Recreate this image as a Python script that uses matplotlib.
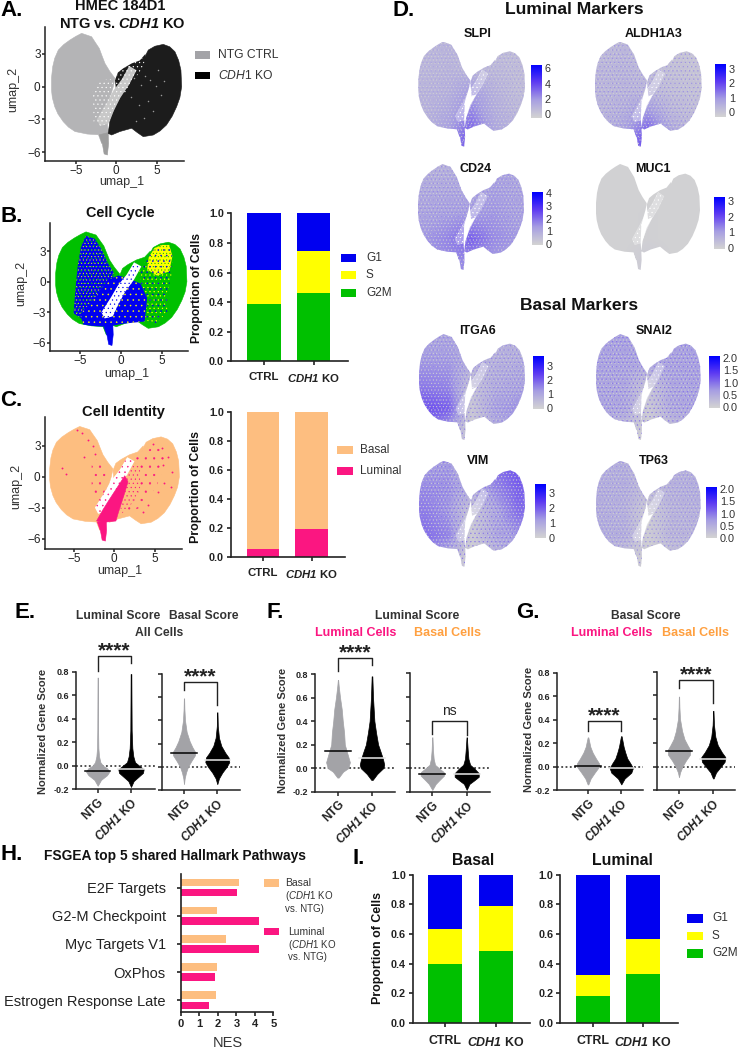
import numpy as np
import matplotlib
matplotlib.use('Agg')
from matplotlib import pyplot as plt
from matplotlib.colors import LinearSegmentedColormap
from matplotlib.patches import Polygon, Rectangle, PathPatch
from matplotlib.path import Path

plt.rcParams['font.family'] = ['Liberation Sans', 'DejaVu Sans']
plt.rcParams['mathtext.fontset'] = 'custom'
plt.rcParams['mathtext.rm'] = 'Liberation Sans'
plt.rcParams['mathtext.it'] = 'Liberation Sans:italic'
plt.rcParams['mathtext.bf'] = 'Liberation Sans:bold'
plt.rcParams['mathtext.bfit'] = 'Liberation Sans:italic:bold'
plt.rcParams['hatch.linewidth'] = 0.35

W, H = 738, 1049
INK = '#222222'
GREY = '#b4b4b6'
NTG_GREY = '#a3a3a7'
BLUE = '#0000f0'
YELLOW = '#ffff00'
GREEN = '#00c000'
PEACH = '#fdbe80'
PINK = '#fb1681'
ORANGE_TXT = '#ffa040'
CDH1 = r'$\mathit{CDH1}$ KO'
CDH1B = r'$\mathbfit{CDH1}$ KO'

# umap outlines (umap_1, umap_2)
LEFT = [(-4.28, 4.88), (-3.05, 4.57), (-2.55, 4.0), (-2.1, 3.5), (-1.75, 2.8), (-1.4, 2.13), (-0.8, 1.4), (-0.16, 0.76),
        (-0.37, 0), (-1, -1.5), (-1.1, -3.35), (-1, -4.3), (-1.8, -5.2), (-2.2, -4.4), (-3.6, -4.33), (-5.1, -4.1),
        (-5.9, -3.7), (-6.55, -3.2), (-7.2, -2.5), (-7.6, -1.83), (-7.9, -1.0), (-8, -0.3), (-8, 0.8), (-7.85, 1.83),
        (-7.6, 2.6), (-7.16, 3.35), (-6.5, 3.85), (-5.72, 4.27), (-5.0, 4.6)]
RIGHT = [(5.8, 3.87), (6.6, 3.65), (7.24, 3.2), (7.7, 2.4), (7.98, 1.52), (8.07, 0), (7.85, -1.0), (7.45, -1.83),
         (6.9, -2.7), (6.2, -3.5), (5.4, -4.05), (4.57, -4.42), (3.33, -4.57), (2.6, -4.2), (1.9, -3.8), (0.45, -4.1),
         (-0.58, -4.42), (-1, -4.27), (-0.8, -3.2), (-0.16, -1.83), (1.07, -0.3), (2.3, 1.2), (3.33, 2.44), (3.95, 3.35),
         (4.77, 3.7)]
WING = [(-0.16, 0.6), (0.2, 1.3), (0.86, 1.68), (1.9, 2.13), (2.9, 2.4), (3.6, 3.0), (3.4, 1.8), (2.1, 0.6), (1.07, -0.6), (0.04, -0.9)]
TAIL = [(-1, -4.2), (-0.95, -5.2), (-1.1, -6.25), (-1.5, -6.15), (-1.7, -5.3), (-2.1, -4.4)]
GAP = [(-2.4, -3.0), (-1.2, -1.5), (-0.4, -0.4), (0.7, 0.7), (1.6, 1.9), (2.5, 1.5), (1.6, 0.2), (0.5, -1.0), (-0.3, -2.2),
       (-1.0, -3.4), (-2.0, -3.6)]
# panel A speckled zone beside the crease
A_SPECK = [(-2.9, -0.4), (-1.9, 0.6), (-0.3, 0.7), (-0.9, -1.4), (-1.1, -3.5), (-2.8, -3.4)]
# panel B mixes
B_LEFT_MIX = [(-4.3, 4.5), (-3.2, 4.2), (-2.4, 3.2), (-1.6, 1.8), (-0.9, 0.9), (-1.3, -1.5), (-2.5, -3.2), (-4.5, -3.8),
              (-5.8, -3.1), (-5.6, -1), (-5.3, 1.5), (-4.9, 3.4)]
B_RIGHT_MIX = [(4.1, 3.3), (5.0, 3.6), (5.9, 3.6), (6.3, 2.5), (6.2, 0.6), (5.6, -1.2), (5.7, -2.9), (4.4, -4.1), (3.0, -3.8),
               (2.6, -1.2), (2.2, 1.0)]
B_RIGHT_TOP = [(4.1, 3.3), (5.0, 3.6), (5.9, 3.6), (6.3, 2.5), (5.9, 1.0), (4.4, 0.6), (3.2, 1.2), (3.4, 2.4)]
B_BLUE = [(-4.6, -4.2), (-5, -3.2), (-3.2, -1.6), (-1.6, 0.2), (-0.3, 0.6), (1.0, 0.3), (2.4, -0.2), (3.2, -1.6), (2.9, -3.9),
          (0.45, -4.1), (-1, -4.3), (-2.2, -4.4), (-3.6, -4.33)]
# panel C pink zones
C_PINK_MIST = [(2.3, 1.6), (3.5, 2.5), (5.5, 2.9), (6.4, 1.5), (5.2, -1.0), (3.2, -3.0), (1.4, -3.6), (0.9, -1.5)]
C_PINK_NEAR = [(1.8, 1.4), (3.2, 1.2), (3.2, -1.2), (2.0, -2.8), (0.9, -3.6), (0.4, -1.5)]
C_LEFT_MIST = [(-2.8, 1.2), (-2.0, 1.8), (-1.0, 0.4), (-1.2, -1.5), (-2.0, -2.6), (-2.8, -1.5)]
C_PINK_BAND = [(-2.2, -4.3), (-1.4, -3.2), (-0.6, -2.2), (0.4, -1.0), (1.3, 0.1), (1.7, -0.5), (1.2, -1.8), (0.5, -3.5), (0.2, -4.3), (-1, -4.4)]
# sparse cells picked by eye
A_KO_SPECKS_X = [2.2, 3.1, 3.6, 4.2, 4.9, 5.5, 3.9, 2.8, 4.5, 5.9, 1.8, 3.4, 5.1, 2.4]
A_KO_SPECKS_Y = [0.8, 0.2, 1.0, 0.6, 0.1, -0.8, -1.3, -1.7, -2.2, 0.5, -0.9, -2.9, 1.5, -3.1]
C_PINK_X = [-4.0, -3.3, -2.6, -6.5, -6.0, -3.8, -2.4, -4.6, 4.8, 5.9, 6.6, 7.1, 6.2, 5.4, 4.2, 7.0, 6.0, 3.6]
C_PINK_Y = [4.2, 3.6, 3.0, 0.8, 0.3, 1.9, 2.2, 4.5, 3.2, 2.8, 1.9, 0.5, -0.6, -1.5, -2.7, -1.0, 1.1, -3.4]

UMAP_X = [-5, 0, 5]
UMAP_Y = [-6, -3, 0, 3]

# stacked bars
BAR_CATS = ['CTRL', CDH1B]
B_G2M = [0.385, 0.46]
B_S = [0.232, 0.285]
B_G1 = [0.383, 0.255]
C_LUM = [0.055, 0.195]
C_BAS = [0.95, 0.805]
I_BAS_G2M = [0.395, 0.487]
I_BAS_S = [0.238, 0.30]
I_BAS_G1 = [0.367, 0.213]
I_LUM_G2M = [0.18, 0.33]
I_LUM_S = [0.147, 0.238]
I_LUM_G1 = [0.673, 0.432]

# feature plots: mean level (0-1 of colour scale) read by eye, rows top to bottom, cols left to right
GENES = ['SLPI', 'ALDH1A3', 'CD24', 'MUC1', 'ITGA6', 'SNAI2', 'VIM', 'TP63']
LV_SLPI = [[.18, .2, .15, .15, .15], [.18, .2, .18, .17, .15], [.2, .22, .35, .22, .15], [.2, .28, .45, .25, .18], [.2, .35, .6, .3, .2]]
LV_ALDH1A3 = [[.15, .18, .12, .1, .1], [.18, .2, .15, .12, .1], [.18, .2, .2, .14, .12], [.2, .25, .4, .2, .15], [.2, .35, .65, .3, .2]]
LV_CD24 = [[.22, .22, .25, .3, .28], [.26, .28, .28, .33, .3], [.3, .33, .35, .36, .32], [.35, .42, .55, .4, .35], [.35, .4, .4, .35, .3]]
LV_MUC1 = [[.01, .01, .01, .01, .01], [.01, .01, .01, .01, .01], [.01, .01, .02, .01, .01], [.01, .01, .02, .01, .01], [.01, .02, .06, .02, .01]]
LV_ITGA6 = [[.3, .3, .2, .22, .2], [.35, .35, .25, .22, .25], [.45, .42, .12, .25, .3], [.6, .55, .08, .32, .38], [.5, .3, .03, .2, .3]]
LV_SNAI2 = [[.3, .32, .2, .3, .32], [.3, .3, .3, .3, .32], [.28, .28, .1, .28, .3], [.3, .28, .06, .26, .3], [.2, .1, .02, .1, .2]]
LV_VIM = [[.32, .35, .08, .5, .6], [.4, .38, .25, .4, .55], [.45, .36, .08, .28, .5], [.5, .42, .05, .28, .35], [.4, .2, .02, .15, .3]]
LV_TP63 = [[.22, .24, .1, .22, .22], [.24, .24, .15, .22, .24], [.24, .22, .05, .2, .22], [.25, .24, .04, .2, .2], [.2, .1, .02, .1, .15]]
LEVELS = [LV_SLPI, LV_ALDH1A3, LV_CD24, LV_MUC1, LV_ITGA6, LV_SNAI2, LV_VIM, LV_TP63]
DOT_LEVEL = [.3, .38, .4, .0, .42, .48, .48, .38]
CB_TICKS = [[0, 2, 4, 6], [0, 1, 2, 3], [0, 1, 2, 3, 4], [0, 1, 2, 3], [0, 1, 2, 3],
            [0.0, 0.5, 1.0, 1.5, 2.0], [0, 1, 2, 3], [0.0, 0.5, 1.0, 1.5, 2.0]]
CB_LO = [-0.56, -0.3, -0.08, -0.06, -0.05, -0.02, 0, 0]
CB_HI = [6.43, 3.35, 4.08, 3.26, 3.7, 2.08, 3.58, 2.09]

# violins: score, half width
E1_N_Y = [-0.17, -0.12, -0.08, -0.05, -0.02, 0, 0.03, 0.08, 0.15, 0.3, 0.75]
E1_N_W = [0, 0.10, 0.28, 0.35, 0.28, 0.16, 0.08, 0.04, 0.02, 0.012, 0.005]
E1_K_Y = [-0.18, -0.13, -0.1, -0.06, -0.03, 0, 0.03, 0.08, 0.15, 0.3, 0.78]
E1_K_W = [0, 0.08, 0.2, 0.36, 0.38, 0.25, 0.12, 0.07, 0.04, 0.02, 0.01]
E2_N_Y = [-0.15, -0.1, -0.05, 0, 0.05, 0.1, 0.13, 0.17, 0.22, 0.3, 0.4, 0.5, 0.59]
E2_N_W = [0, 0.02, 0.06, 0.12, 0.22, 0.33, 0.33, 0.25, 0.17, 0.08, 0.03, 0.012, 0.005]
E2_K_Y = [-0.15, -0.1, -0.05, 0, 0.04, 0.08, 0.12, 0.18, 0.25, 0.35, 0.47]
E2_K_W = [0, 0.05, 0.15, 0.28, 0.36, 0.34, 0.24, 0.12, 0.05, 0.015, 0.005]
F1_N_Y = [-0.08, -0.03, 0, 0.05, 0.1, 0.15, 0.2, 0.3, 0.4, 0.5, 0.6, 0.7, 0.75]
F1_N_W = [0.02, 0.15, 0.3, 0.35, 0.3, 0.25, 0.2, 0.18, 0.14, 0.11, 0.06, 0.02, 0.005]
F1_K_Y = [-0.1, -0.05, 0, 0.03, 0.08, 0.15, 0.2, 0.3, 0.4, 0.5, 0.6, 0.78]
F1_K_W = [0.02, 0.15, 0.33, 0.36, 0.32, 0.24, 0.18, 0.12, 0.07, 0.05, 0.03, 0.01]
F2_N_Y = [-0.18, -0.13, -0.1, -0.06, -0.03, 0, 0.03, 0.08, 0.15, 0.26]
F2_N_W = [0, 0.1, 0.2, 0.34, 0.33, 0.2, 0.08, 0.04, 0.02, 0.005]
F2_K_Y = [-0.18, -0.13, -0.1, -0.07, -0.04, 0, 0.03, 0.08, 0.15, 0.26]
F2_K_W = [0, 0.08, 0.22, 0.35, 0.35, 0.22, 0.1, 0.05, 0.03, 0.005]
G1_N_Y = [-0.15, -0.1, -0.05, 0, 0.03, 0.07, 0.12, 0.17, 0.25]
G1_N_W = [0.01, 0.08, 0.2, 0.33, 0.33, 0.24, 0.14, 0.07, 0.01]
G1_K_Y = [-0.15, -0.1, -0.05, -0.01, 0.03, 0.07, 0.12, 0.17, 0.26]
G1_K_W = [0, 0.1, 0.3, 0.35, 0.27, 0.18, 0.12, 0.07, 0.01]
G2_N_Y = [-0.09, -0.05, 0, 0.05, 0.1, 0.14, 0.18, 0.23, 0.3, 0.4, 0.5, 0.59]
G2_N_W = [0, 0.03, 0.1, 0.2, 0.32, 0.33, 0.25, 0.16, 0.09, 0.03, 0.012, 0.005]
G2_K_Y = [-0.1, -0.05, 0, 0.04, 0.08, 0.12, 0.18, 0.25, 0.35, 0.47]
G2_K_W = [0.01, 0.08, 0.22, 0.33, 0.35, 0.25, 0.13, 0.06, 0.02, 0.005]

# pathways
PATHWAYS = ['E2F Targets', 'G2-M Checkpoint', 'Myc Targets V1', 'OxPhos', 'Estrogen Response Late']
NES_BASAL = [3.14, 1.97, 2.42, 1.95, 1.91]
NES_LUMINAL = [3.01, 4.24, 4.2, 1.84, 1.53]

fig = plt.figure(figsize=(W / 100, H / 100), dpi=100)


#axes from pixel box
def axpx(l, t, r, b):
    return fig.add_axes([l / W, 1 - b / H, (r - l) / W, (b - t) / H])


#text at pixel position
def T(x, y, s, size=8, weight='normal', color='#111111', ha='center', va='center', **kw):
    fig.text(x / W, 1 - y / H, s, fontsize=size, fontweight=weight, color=color, ha=ha, va=va, **kw)


#legend swatch at pixel box
def swatch(x0, y0, x1, y1, color):
    fig.add_artist(Rectangle((x0 / W, 1 - y1 / H), (x1 - x0) / W, (y1 - y0) / H, transform=fig.transFigure,
                             facecolor=color, edgecolor='none'))


def poly(ax, pts, color, hatch=None, hatch_color=None, z=2, alpha=None):
    if hatch is None:
        ax.add_patch(Polygon(pts, closed=True, facecolor=color, edgecolor=color, linewidth=0.4, zorder=z, alpha=alpha))
    else:
        ax.add_patch(Polygon(pts, closed=True, facecolor=color, edgecolor=hatch_color, hatch=hatch, linewidth=0, zorder=z))


def style(ax, lw=1.1, size=7.5, weight='normal', length=3, pad=2):
    ax.spines['top'].set_visible(False)
    ax.spines['right'].set_visible(False)
    for s in ['left', 'bottom']:
        ax.spines[s].set_linewidth(lw)
        ax.spines[s].set_color(INK)
    ax.tick_params(width=lw, length=length, labelsize=size, color=INK, labelcolor='#222222', pad=pad)
    for t in ax.get_xticklabels() + ax.get_yticklabels():
        t.set_fontweight(weight)


def umap_axes(box, xlim, ylim, xlab, ylab):
    ax = axpx(*box)
    ax.set_xlim(*xlim)
    ax.set_ylim(*ylim)
    ax.set_xticks(UMAP_X, ['\u22125', '0', '5'])
    ax.set_yticks(UMAP_Y, ['\u22126', '\u22123', '0', '3'])
    style(ax, size=8.5, length=2, pad=1)
    T(xlab[0], xlab[1], 'umap_1', size=9, color='#333333')
    T(ylab[0], ylab[1], 'umap_2', size=9, color='#333333', rotation=90)
    return ax


def stacked(box, pos, values, colors, xsize, xpad):
    ax = axpx(*box)
    p0, p1 = pos
    ax.set_xlim((box[0] - p0) / (p1 - p0), (box[2] - p0) / (p1 - p0))
    ax.set_ylim(0, 1)
    bottom = np.zeros(2)
    for v, c in zip(values, colors):
        ax.bar([0, 1], v, width=0.67, bottom=bottom, color=c, clip_on=False, zorder=2)
        bottom = bottom + np.array(v)
    ax.set_xticks([0, 1], BAR_CATS)
    ax.set_yticks([0, 0.2, 0.4, 0.6, 0.8, 1.0])
    style(ax, lw=1.2, size=7.8, weight='bold')
    ax.tick_params(axis='x', pad=xpad, labelsize=xsize)
    return ax


def violin(box, pos, shapes, medians, bracket, stars, ylabels):
    ax = axpx(*box)
    p0, p1 = pos
    ax.set_xlim((box[0] - p0) / (p1 - p0), (box[2] - p0) / (p1 - p0))
    ax.set_ylim(-0.2, 0.8)
    ax.axhline(0, color='#222222', lw=1.1, ls=(0, (1.2, 1.6)), zorder=1)
    for i, (y, w) in enumerate(shapes):
        c = NTG_GREY if i == 0 else 'black'
        ax.fill_betweenx(y, i - np.array(w), i + np.array(w), color=c, lw=0.5, zorder=2, clip_on=False)
        ax.plot([i - 0.38, i + 0.38], [medians[i], medians[i]], color='black' if i == 0 else '#e8e8e8', lw=1.1, zorder=3)
    top, ld, rd = bracket
    ax.plot([0, 0, 1, 1], [ld, top, top, rd], color=INK, lw=1.0, clip_on=False, zorder=4)
    ax.text(0.5, top + stars[1], stars[0], ha='center', va='center', fontsize=stars[2], fontweight=stars[3], color=INK)
    ax.set_xticks([0, 1], ['NTG', CDH1B], rotation=45, ha='right', rotation_mode='anchor')
    ax.set_yticks([-0.2, 0, 0.2, 0.4, 0.6, 0.8], ['-0.2', '0.0', '0.2', '0.4', '0.6', '0.8'] if ylabels else [])
    style(ax, lw=1.1, size=6.5, weight='bold')
    ax.tick_params(axis='x', labelsize=8.5)
    return ax


# panel A
ax = umap_axes((44.7, 27, 184, 160.7), (-8.84, 8.36), (-6.77, 5.46), (122, 182), (13, 89))
poly(ax, LEFT, GREY)
poly(ax, TAIL, '#9d9d9d')
poly(ax, RIGHT, '#1c1c1c', z=2.3)
poly(ax, A_SPECK, GREY, hatch='....', hatch_color='#ffffff', z=2.2)
poly(ax, WING, '#1c1c1c', hatch='....', hatch_color='#ffffff', z=3)
poly(ax, GAP, '#c8c8c8', hatch='....', hatch_color='#ffffff', z=3.1)
ax.scatter(A_KO_SPECKS_X, A_KO_SPECKS_Y, s=1.2, color='#999999', linewidths=0, zorder=4)
T(120, 6, 'HMEC 184D1', size=10.5, weight='bold')
T(122, 23.5, r'NTG vs. $\mathbfit{CDH1}$ KO', size=10.5, weight='bold')
swatch(195, 51, 210, 59, NTG_GREY)
swatch(195, 72, 210, 79, 'black')
T(218, 55, 'NTG CTRL', size=8.7, ha='left', color='#333333')
T(218, 75.5, CDH1, size=8.7, ha='left', color='#333333')

# panel B
ax = umap_axes((50.3, 223, 188.3, 351.3), (-8.65, 8.24), (-6.82, 5.75), (127, 374), (21, 283))
poly(ax, LEFT, GREEN)
poly(ax, RIGHT, GREEN)
poly(ax, WING, GREEN, z=2.1)
poly(ax, B_LEFT_MIX, BLUE, hatch='.....', hatch_color=YELLOW, z=2.2)
ax.add_patch(Polygon(B_LEFT_MIX, closed=True, facecolor='none', edgecolor=GREEN, hatch='....', linewidth=0, zorder=2.25))
poly(ax, B_RIGHT_MIX, GREEN, hatch='....', hatch_color=YELLOW, z=2.2)
poly(ax, B_RIGHT_TOP, YELLOW, hatch='.....', hatch_color=GREEN, z=2.3)
ax.add_patch(Polygon(B_RIGHT_MIX, closed=True, facecolor='none', edgecolor=BLUE, hatch='...', linewidth=0, zorder=2.35))
poly(ax, B_BLUE, BLUE, hatch='...', hatch_color=YELLOW, z=2.4)
poly(ax, TAIL, BLUE, z=2.5)
poly(ax, GAP, '#ffffff', hatch='....', hatch_color=BLUE, z=3)
T(120, 213, 'Cell Cycle', size=10.4, weight='bold')
stacked((231, 213.3, 347.7, 361.3), (264, 313.7), [B_G2M, B_S, B_G1], [GREEN, YELLOW, BLUE], 8.2, 5)
T(196.7, 288, 'Proportion of Cells', size=8.7, weight='bold', rotation=90)
swatch(341, 254, 356, 262, BLUE)
swatch(341, 271, 356, 279, YELLOW)
swatch(341, 289, 356, 297, GREEN)
for y, s in zip([258, 275, 293], ['G1', 'S', 'G2M']):
    T(366, y, s, size=8.5, ha='left', color='#333333')

# panel C
ax = umap_axes((44.7, 416.7, 182.3, 548.7), (-8.62, 8.43), (-6.99, 5.83), (120, 571), (16, 486))
poly(ax, LEFT, PEACH)
poly(ax, RIGHT, PEACH)
poly(ax, WING, PEACH, z=2.1)
poly(ax, C_PINK_MIST, PEACH, hatch='..', hatch_color=PINK, z=2.2)
poly(ax, C_PINK_NEAR, PEACH, hatch='....', hatch_color=PINK, z=2.3)
poly(ax, C_LEFT_MIST, PEACH, hatch='..', hatch_color=PINK, z=2.2)
poly(ax, GAP, '#ffffff', hatch='...', hatch_color=PINK, z=3)
poly(ax, C_PINK_BAND, PINK, z=3.2)
poly(ax, TAIL, PINK, z=3.3)
ax.scatter(C_PINK_X, C_PINK_Y, s=1.8, color=PINK, linewidths=0, zorder=4)
T(123, 411.7, 'Cell Identity', size=10.5, weight='bold')
stacked((231, 412.3, 345, 557), (263, 311.7), [C_LUM, C_BAS], [PINK, PEACH], 8.2, 5)
T(195.7, 486.7, 'Proportion of Cells', size=8.9, weight='bold', rotation=90)
swatch(337, 446, 353, 454, PEACH)
swatch(337, 467, 353, 475, PINK)
T(360, 450, 'Basal', size=8.5, ha='left', color='#333333')
T(360, 471, 'Luminal', size=8.5, ha='left', color='#333333')

# panel D feature plots
cmap = LinearSegmentedColormap.from_list('gb', ['#d3d3d3', '#a79fe2', '#5f3cf2', '#0000ff'])
FEATURE_BOX = [(418.3, 41.7, 525, 146.7), (595, 41.7, 701.7, 146.7), (418, 164, 524, 270), (596, 164, 700, 270),
               (419, 334, 525, 440), (596, 334, 700.7, 440), (419, 460.7, 525, 566.7), (596, 460.7, 700.7, 566.7)]
CB_BOX = [(531, 65, 542, 118.3), (715, 64, 726, 116.7), (532, 192, 543, 245), (714, 197, 725, 249),
          (533, 356, 544, 409), (709, 356, 720, 407.7), (535, 484, 546, 537.7), (706, 486.7, 717, 538.3)]
TITLE_XY = [(477.7, 34), (654, 34), (476, 169), (653, 169), (477.7, 331), (654, 331), (477.7, 461), (654, 461)]
SHAPE = Path.make_compound_path(*[Path(p + [p[0]], closed=True) for p in [LEFT, RIGHT, WING, TAIL]])
for i, g in enumerate(GENES):
    ax = axpx(*FEATURE_BOX[i])
    im = ax.imshow(LEVELS[i], cmap=cmap, vmin=0, vmax=1, extent=(-8.75, 8.75, -6.75, 5.75), interpolation='bilinear', aspect='auto')
    im.set_clip_path(PathPatch(SHAPE, transform=ax.transData))
    ax.set_xlim(-8, 8.07)
    ax.set_ylim(-6.25, 4.88)
    ax.axis('off')
    if g != 'MUC1':
        ax.add_patch(PathPatch(SHAPE, facecolor='none', edgecolor='#d3d3d3', hatch='.....', linewidth=0, zorder=2))
        ax.add_patch(PathPatch(SHAPE, facecolor='none', edgecolor=cmap(DOT_LEVEL[i]), hatch='....', linewidth=0, zorder=2.1))
    poly(ax, GAP, '#ffffff', z=3, alpha=0.3)
    ax.add_patch(Polygon(GAP, closed=True, facecolor='none', edgecolor='#ffffff', hatch='....', linewidth=0, zorder=3.1))
    T(TITLE_XY[i][0], TITLE_XY[i][1], g, size=9, weight='bold')
    cb = axpx(*CB_BOX[i])
    cb.imshow(np.linspace(1, 0, 64).reshape(-1, 1), cmap=cmap, aspect='auto', extent=(0, 1, CB_LO[i], CB_HI[i]))
    cb.set_xticks([])
    cb.yaxis.tick_right()
    cb.set_yticks(CB_TICKS[i], [f'{v:.1f}' if g in ('SNAI2', 'TP63') else str(v) for v in CB_TICKS[i]])
    cb.tick_params(length=0, labelsize=7.8, pad=2, labelcolor='#333333')
    for s in cb.spines.values():
        s.set_visible(False)
T(574, 9, 'Luminal Markers', size=12.6, weight='bold')
T(579, 305.7, 'Basal Markers', size=12.6, weight='bold')

# panels E, F, G
BIG_STAR = ('****', 0.045, 15, 'bold')
violin((76, 671.7, 155, 789.3), (97.7, 131), [(E1_N_Y, E1_N_W), (E1_K_Y, E1_K_W)], [-0.045, -0.03], (0.936, 0.81, 0.87), BIG_STAR, True)
violin((162.3, 674, 240, 790), (184, 217.3), [(E2_N_Y, E2_N_W), (E2_K_Y, E2_K_W)], [0.12, 0.055], (0.73, 0.66, 0.53), BIG_STAR, False)
violin((315, 674, 395.3, 791.7), (338, 372), [(F1_N_Y, F1_N_W), (F1_K_Y, F1_K_W)], [0.15, 0.09], (0.938, 0.825, 0.875), BIG_STAR, True)
violin((410.3, 672.7, 489.7, 792.3), (432.3, 466.7), [(F2_N_Y, F2_N_W), (F2_K_Y, F2_K_W)], [-0.05, -0.05], (0.40, 0.29, 0.28), ('ns', 0.08, 10, 'normal'), False)
violin((557, 672.7, 643, 790.3), (588, 621.3), [(G1_N_Y, G1_N_W), (G1_K_Y, G1_K_W)], [0.01, -0.01], (0.387, 0.307, 0.307), BIG_STAR, True)
violin((656.7, 671.7, 734.7, 790.3), (679, 713.3), [(G2_N_Y, G2_N_W), (G2_K_Y, G2_K_W)], [0.13, 0.065], (0.73, 0.66, 0.54), BIG_STAR, False)
for x, y in [(42.7, 731), (282.7, 730), (528.7, 729)]:
    T(x, y, 'Normalized Gene Score', size=8, weight='bold', rotation=90, color='#333333')
T(118, 616, 'Luminal Score', size=8.7, weight='bold', color='#333333')
T(204, 616, 'Basal Score', size=8.7, weight='bold', color='#333333')
T(159.3, 633, 'All Cells', size=8.7, weight='bold', color='#333333')
T(417, 616, 'Luminal Score', size=8.7, weight='bold', color='#333333')
T(356, 633, 'Luminal Cells', size=9, weight='bold', color=PINK)
T(447, 633, 'Basal Cells', size=9, weight='bold', color=ORANGE_TXT)
T(646, 616, 'Basal Score', size=8.7, weight='bold', color='#333333')
T(611.3, 633, 'Luminal Cells', size=9, weight='bold', color=PINK)
T(695.3, 633, 'Basal Cells', size=9, weight='bold', color=ORANGE_TXT)

# panel H
ax = axpx(181, 874.3, 273.3, 1012.3)
ax.set_xlim(0, 5)
ax.set_ylim(4.43, -0.477)
yy = np.arange(len(PATHWAYS))
ax.barh(yy - 0.18, NES_BASAL, height=0.26, color=PEACH, zorder=2)
ax.barh(yy + 0.18, NES_LUMINAL, height=0.26, color=PINK, zorder=2)
ax.set_xticks([0, 1, 2, 3, 4, 5])
ax.set_yticks(yy, PATHWAYS)
style(ax, lw=1.2, size=8, weight='bold')
ax.tick_params(axis='y', labelsize=10.5, pad=8)
for t in ax.get_yticklabels():
    t.set_fontweight('normal')
T(228, 1043, 'NES', size=10.5, color='#333333')
T(175, 856, 'FSGEA top 5 shared Hallmark Pathways', size=9.9, weight='bold')
swatch(263.7, 879.3, 279, 887, PEACH)
swatch(263.7, 927.7, 279, 935.3, PINK)
T(285, 883, 'Basal', size=7.5, ha='left', color='#333333')
T(285, 896, '(' + CDH1, size=7, ha='left', color='#333333')
T(285, 908.7, 'vs. NTG)', size=7, ha='left', color='#333333')
T(288, 931.7, 'Luminal', size=7.5, ha='left', color='#333333')
T(288, 945, '(' + CDH1, size=7, ha='left', color='#333333')
T(288, 957, 'vs. NTG)', size=7, ha='left', color='#333333')

# panel I
stacked((413, 874.7, 530.3, 1023), (445.3, 495.7), [I_BAS_G2M, I_BAS_S, I_BAS_G1], [GREEN, YELLOW, BLUE], 8.9, 6)
stacked((560.3, 874.7, 678, 1023), (593, 643), [I_LUM_G2M, I_LUM_S, I_LUM_G1], [GREEN, YELLOW, BLUE], 8.9, 6)
T(378, 948, 'Proportion of Cells', size=8.9, weight='bold', rotation=90)
T(473, 860.7, 'Basal', size=11.3, weight='bold')
T(622, 860.7, 'Luminal', size=11.4, weight='bold')
swatch(687.3, 914, 703, 922.5, BLUE)
swatch(687.3, 931.5, 703, 940, YELLOW)
swatch(687.3, 949, 703, 957.5, GREEN)
for y, s in zip([918.3, 935.7, 953.3], ['G1', 'S', 'G2M']):
    T(712, y, s, size=8.5, ha='left', color='#333333')

# panel letters
for x, y, s in [(0, 11, 'A.'), (0, 216, 'B.'), (0, 401, 'C.'), (392, 11, 'D.'), (14, 613, 'E.'), (266, 613, 'F.'), (516, 613, 'G.'), (0, 855, 'H.'), (352, 858, 'I.')]:
    T(x, y, s, size=16, weight='bold', ha='left', color='black')

fig.savefig('out.png', dpi=100)
